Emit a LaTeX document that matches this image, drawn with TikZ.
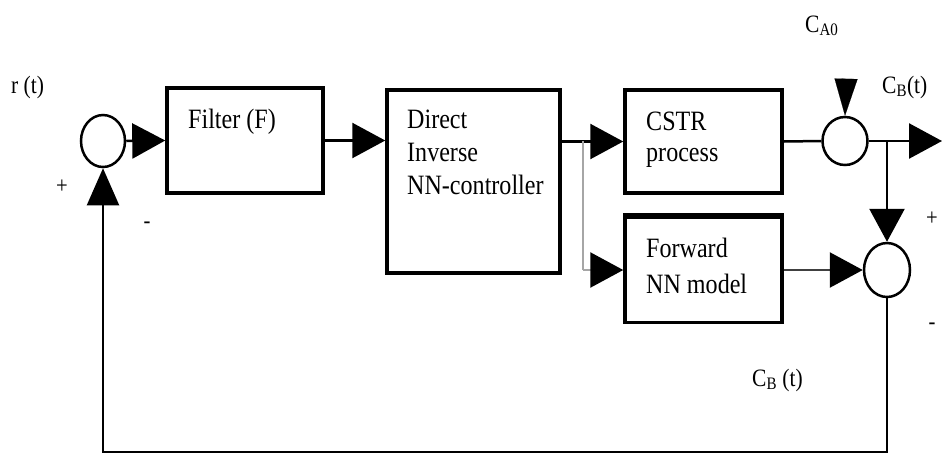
\documentclass[tikz,border=0pt]{standalone}
\usepackage{fontspec}
\setmainfont{Liberation Serif}[FakeStretch=0.86]
\usetikzlibrary{arrows.meta,shapes.geometric}
\begin{document}
\begin{tikzpicture}[x=1pt,y=-1pt,
  blk/.style={draw,line width=3.5pt,inner sep=0pt},
  sumj/.style={draw,ellipse,line width=2.5pt,inner sep=0pt,minimum width=44pt,minimum height=52pt},
  txt/.style={inner sep=0pt,anchor=base west,font=\fontsize{28}{33}\selectfont},
  lbl/.style={inner sep=0pt,anchor=base west,font=\fontsize{25}{28}\selectfont},
  sgn/.style={inner sep=0pt,font=\fontsize{24}{26}\selectfont},
  bighead/.style={-{Triangle[length=33pt,width=35pt,color=black]}},
  con/.style={line width=2.5pt,bighead},
]
\useasboundingbox (0,0) rectangle (942,456);
% blocks
\node[blk,minimum width=156pt,minimum height=105pt] (filter) at (245,140.5) {};
\node[blk,minimum width=173pt,minimum height=183pt] (direct) at (473.5,181.5) {};
\node[blk,minimum width=157pt,minimum height=103pt] (cstr) at (703.5,141.5) {};
\node[blk,minimum width=157pt,minimum height=105pt] (fwd) at (703.5,270) {};
\draw[line width=6pt] (fwd.north west) -- (fwd.north east);
% summing junctions
\node[sumj] (s1) at (103,141) {};
\node[sumj,minimum width=45pt,minimum height=48pt] (s2) at (845,141) {};
\node[sumj,minimum width=46pt,minimum height=54pt] (s3) at (887,270) {};
% texts
\node[txt] (tf) at (188,128) {Filter (F)};
\node[txt] (td1) at (407,128) {Direct};
\node[txt] (td2) at (407,161) {Inverse};
\node[txt] (td3) at (407,194) {NN-controller};
\node[txt] (tc1) at (646,130) {CSTR};
\node[txt] (tc2) at (646,161) {process};
\node[txt] (tw1) at (646,257) {Forward};
\node[txt] (tw2) at (646,293) {NN model};
% labels
\node[lbl] (lr) at (11,93) {r (t)};
\node[lbl] (lca) at (805,32) {C\textsubscript{A0}};
\node[lbl] (lcb) at (882,93) {C\textsubscript{B}(t)};
\node[lbl] (lcb2) at (752,386) {C\textsubscript{B} (t)};
\node[sgn] (p1) at (62,187) {+};
\node[sgn] (m1) at (147,225) {-};
\node[sgn] (p2) at (932,219) {+};
\node[sgn] (m2) at (932,326) {-};
% coordinates
\coordinate (br1) at (583,141);
\coordinate (br2) at (887,141);
\coordinate (out) at (942,141);
\coordinate (cin) at (846,80);
\coordinate (fb1) at (887,452);
\coordinate (fb2) at (103,452);
% connectors
\draw[con] (s1.east) -- (filter.west);
\draw[con] (filter.east) -- (filter.east -| direct.west);
\draw[con] (direct.east |- cstr.west) -- (cstr.west);
\draw[line width=2.5pt,gray!70] (br1) -- (br1 |- fwd.west);
\draw[con,gray!70] (br1 |- fwd.west) -- (fwd.west);
\draw[line width=2.5pt] (cstr.east) -- (s2.west);
\draw[con] (s2.east) -- (out);
\draw[con] (br2) -- (s3.north);
\draw[line width=0.1pt,-{Triangle[length=37pt,width=23pt]}] (cin) -- (s2.north);
\draw[con,gray!50!black] (fwd.east) -- (s3.west);
\draw[line width=2pt,-{Triangle[length=37pt,width=32pt]}] (s3.south) -- (fb1) -- (fb2) -- (s1.south);
\end{tikzpicture}
\end{document}
